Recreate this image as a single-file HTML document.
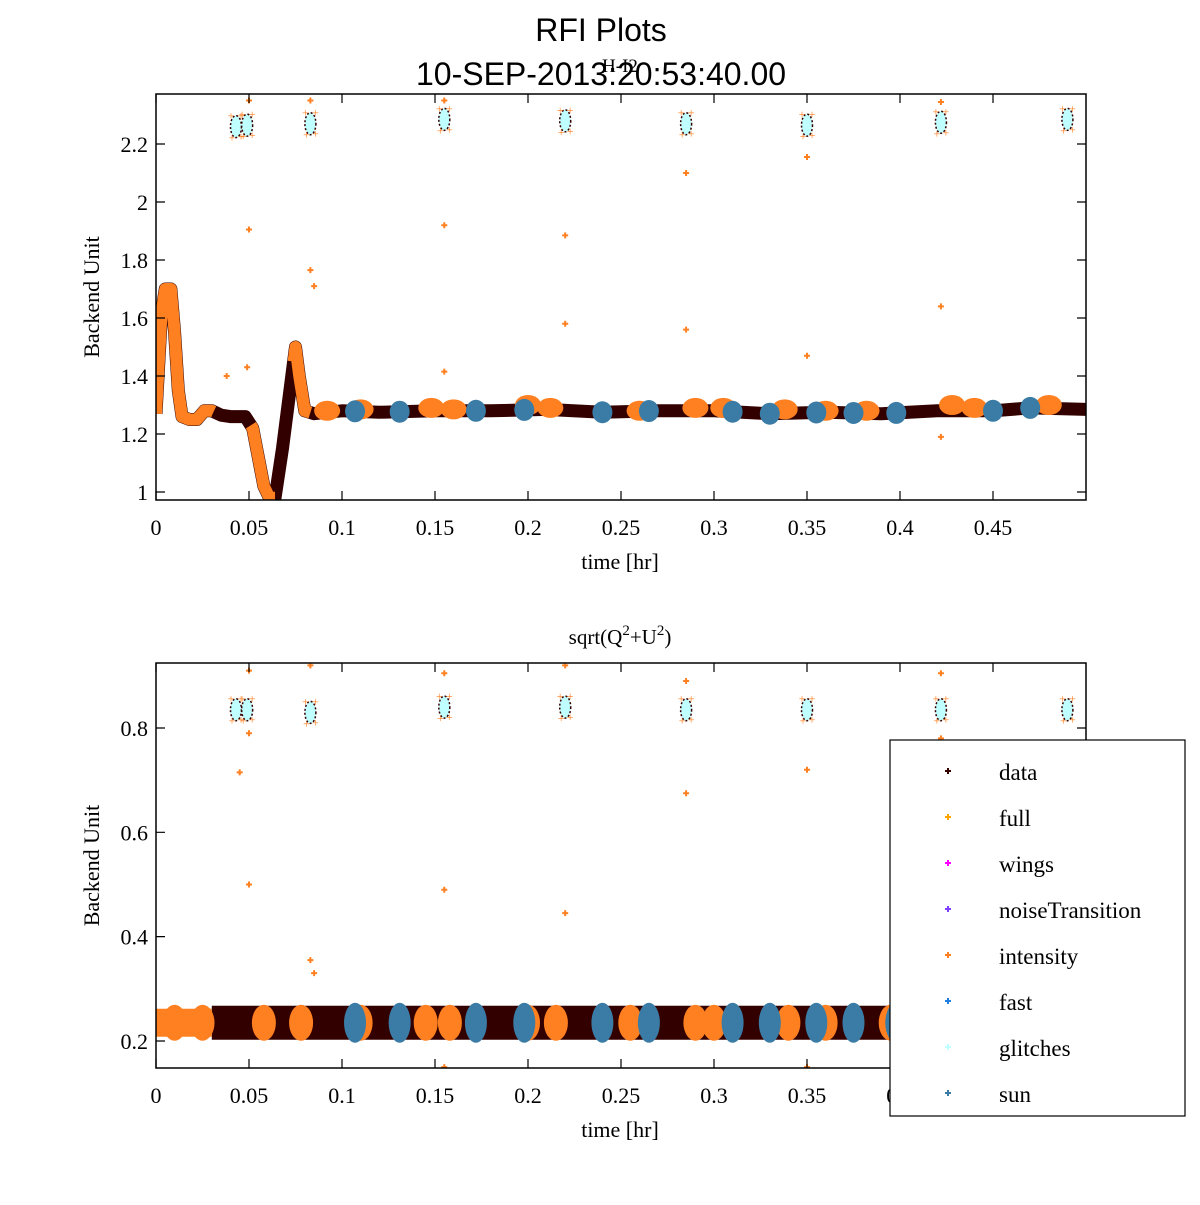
<!DOCTYPE html>
<html><head><meta charset="utf-8"><style>
body{margin:0;background:#fff}
svg text{font-family:"Liberation Serif",serif;fill:#000}
</style></head><body>
<svg id="s" width="1200" height="1200" viewBox="0 0 1200 1200" xmlns="http://www.w3.org/2000/svg">
<defs>
<clipPath id="c1"><rect x="156" y="94" width="930" height="406"/></clipPath>
<clipPath id="c2"><rect x="156" y="663" width="930" height="405"/></clipPath>
</defs>
<text x="601" y="41" font-size="32" text-anchor="middle" style="font-family:'Liberation Sans',sans-serif">RFI Plots</text>
<text x="601" y="85" font-size="32" text-anchor="middle" style="font-family:'Liberation Sans',sans-serif">10-SEP-2013:20:53:40.00</text>
<text x="620" y="72" font-size="19" text-anchor="middle">H-I2</text>
<text x="620" y="644" font-size="21" text-anchor="middle">sqrt(Q<tspan dy="-9" font-size="15">2</tspan><tspan dy="9">+U</tspan><tspan dy="-9" font-size="15">2</tspan><tspan dy="9">)</tspan></text>
<g id="p1" clip-path="url(#c1)"></g>
<g id="p2" clip-path="url(#c2)"></g>
<g id="ax"></g>
<g>
<rect x="890" y="740" width="295" height="376" fill="#fff" stroke="#000" stroke-width="1.2"/>
<g id="leg"></g>
</g>
</svg>
<script>
const NS="http://www.w3.org/2000/svg";
// ---- data ----
const curveT=[0,0.003,0.005,0.008,0.010,0.012,0.014,0.018,0.022,0.026,0.030,0.035,0.040,0.048,0.052,0.055,0.058,0.061,0.064,0.068,0.072,0.075,0.077,0.080,0.085,0.10,0.12,0.15,0.18,0.21,0.24,0.27,0.30,0.33,0.36,0.39,0.42,0.45,0.47,0.50];
const curveV=[1.27,1.62,1.70,1.70,1.55,1.35,1.26,1.25,1.25,1.28,1.28,1.265,1.26,1.26,1.22,1.12,1.02,0.98,0.98,1.15,1.35,1.50,1.40,1.28,1.27,1.28,1.275,1.28,1.28,1.285,1.275,1.28,1.28,1.27,1.275,1.27,1.28,1.28,1.29,1.285];
const orangeRanges=[[0,0.031],[0.051,0.064],[0.074,0.083]];
const topOrangeBlobT=[0.092,0.11,0.148,0.16,0.2,0.212,0.26,0.29,0.305,0.338,0.36,0.382,0.428,0.44,0.48];
const topOrangeBlobV=[1.28,1.285,1.29,1.285,1.3,1.29,1.28,1.29,1.29,1.285,1.28,1.28,1.3,1.29,1.3];
const sunT=[0.107,0.131,0.172,0.198,0.24,0.265,0.31,0.33,0.355,0.375,0.398,0.45,0.47];
const calT=[0.043,0.049,0.083,0.155,0.22,0.285,0.35,0.422,0.49];
const calTopV=[2.26,2.265,2.27,2.285,2.28,2.27,2.265,2.275,2.285];
const calBotV=[0.835,0.835,0.83,0.84,0.84,0.835,0.835,0.835,0.835];
const outTopT=[0.05,0.05,0.083,0.083,0.085,0.155,0.155,0.155,0.22,0.22,0.285,0.285,0.35,0.35,0.422,0.422,0.422,0.049,0.038];
const outTopV=[2.35,1.905,2.35,1.765,1.71,2.35,1.92,1.415,1.885,1.58,2.1,1.56,2.155,1.47,2.345,1.64,1.19,1.43,1.40];
const bandV=0.235;
const botOrangeBlobT=[0.01,0.025,0.058,0.078,0.11,0.145,0.158,0.2,0.215,0.255,0.29,0.3,0.34,0.36,0.395,0.43,0.455];
const outBotT=[0.05,0.05,0.045,0.05,0.083,0.083,0.085,0.155,0.155,0.22,0.22,0.285,0.285,0.35,0.422,0.422,0.155,0.35];
const outBotV=[0.91,0.79,0.715,0.5,0.92,0.355,0.33,0.905,0.49,0.92,0.445,0.89,0.675,0.72,0.905,0.78,0.15,0.15];
const xTicks=[0,0.05,0.1,0.15,0.2,0.25,0.3,0.35,0.4,0.45];
const topYTicks=[1,1.2,1.4,1.6,1.8,2,2.2];
const botYTicks=[0.2,0.4,0.6,0.8];
const legNames=["data","full","wings","noiseTransition","intensity","fast","glitches","sun"];
const legColors=["#330000","#ffa500","#ff00ff","#7f3fff","#ff8020","#1e7fe0","#c0ffff","#3a7ca5"];
// ---- scales ----
const X=t=>156+t*1860;
const Y1=v=>492-(v-1)*290;
const Y2=v=>1041-(v-0.2)*521.7;
function mk(tag,attrs,parent){const e=document.createElementNS(NS,tag);for(const k in attrs)e.setAttribute(k,attrs[k]);parent.appendChild(e);return e;}
const p1=document.getElementById('p1'),p2=document.getElementById('p2'),ax=document.getElementById('ax'),leg=document.getElementById('leg');
function interp(t){for(let i=1;i<curveT.length;i++){if(t<=curveT[i]){const f=(t-curveT[i-1])/(curveT[i]-curveT[i-1]);return curveV[i-1]+f*(curveV[i]-curveV[i-1]);}}return curveV[curveV.length-1];}
// top data curve
let d=curveT.map((t,i)=>(i?'L':'M')+X(t)+' '+Y1(curveV[i])).join(' ');
let e=mk('path',{d:d,fill:'none',stroke:'#330000','stroke-width':13,'stroke-linejoin':'round'},p1);

orangeRanges.forEach(r=>{let pts=[];for(let t=r[0];t<=r[1]+1e-9;t+=0.001)pts.push(X(t)+' '+Y1(interp(t)));
 const o=mk('path',{d:'M'+pts.join(' L'),fill:'none',stroke:'#ff8020','stroke-width':12,'stroke-linejoin':'round'},p1);
 });
topOrangeBlobT.forEach((t,i)=>{const o=mk('ellipse',{cx:X(t),cy:Y1(topOrangeBlobV[i]),rx:13,ry:10,fill:'#ff8020'},p1);
 });
// bottom band
let bd=mk('rect',{x:X(0.03),y:Y2(bandV)-17,width:X(0.5)-X(0.03),height:34,fill:'#330000'},p2);

let bo=mk('rect',{x:X(0),y:Y2(bandV)-14,width:X(0.03)-X(0),height:28,fill:'#ff8020'},p2);

botOrangeBlobT.forEach(t=>{const o=mk('ellipse',{cx:X(t),cy:Y2(bandV),rx:12,ry:18,fill:'#ff8020'},p2);
 });
sunT.forEach(t=>{const o=mk('ellipse',{cx:X(t),cy:Y1(interp(t)),rx:10,ry:11,fill:'#3a7ca5'},p1);
 
 const b=mk('ellipse',{cx:X(t),cy:Y2(bandV),rx:11,ry:20,fill:'#3a7ca5'},p2);
 });
// calibration clusters
calT.forEach((t,i)=>{[[p1,Y1(calTopV[i])],[p2,Y2(calBotV[i])]].forEach(([g,cy])=>{
 const o=mk('ellipse',{cx:X(t),cy:cy,rx:5.5,ry:11,fill:'#c0ffff',stroke:'#330000','stroke-width':1.5,'stroke-dasharray':'2 2'},g);
 
 [[-5,-11],[5,-11],[-4,11],[5,10]].forEach(([dx,dy])=>{const c=mk('text',{x:X(t)+dx,y:cy+dy+4,'font-size':12,'text-anchor':'middle',fill:'#ff8020'},g);c.textContent='+';c.style.fill='#ff8020';});});});
function plus(g,x,y,col){const o=mk('path',{d:`M${x-3} ${y}H${x+3}M${x} ${y-3}V${y+3}`,stroke:col,'stroke-width':2},g);
 }
outTopT.forEach((t,i)=>plus(p1,X(t),Y1(outTopV[i]),'#ff8020'));
outBotT.forEach((t,i)=>plus(p2,X(t),Y2(outBotV[i]),'#ff8020'));
// axes
function axes(top,bot,Yf,yt,name){
 const r=mk('rect',{x:156,y:top,width:930,height:bot-top,fill:'none',stroke:'#000','stroke-width':1.5},ax);
 
 xTicks.forEach(t=>{const x=X(t);mk('path',{d:`M${x} ${bot}v-9M${x} ${top}v9`,stroke:'#000','stroke-width':1.2},ax);
  const l=mk('text',{x:x,y:bot+35,'font-size':22,'text-anchor':'middle'},ax);l.textContent=String(t);
  });
 yt.forEach(v=>{const y=Yf(v);mk('path',{d:`M156 ${y}h9M1086 ${y}h-9`,stroke:'#000','stroke-width':1.2},ax);
  const l=mk('text',{x:148,y:y+8,'font-size':22,'text-anchor':'end'},ax);l.textContent=String(v);
  });
 const xl=mk('text',{x:620,y:bot+69,'font-size':22,'text-anchor':'middle'},ax);xl.textContent='time [hr]';
 
 const cy=(top+bot)/2;const yl=mk('text',{x:99,y:cy,'font-size':22,'text-anchor':'middle',transform:`rotate(-90 99 ${cy})`},ax);yl.textContent='Backend Unit';
 }
axes(94,500,Y1,topYTicks,'top');
axes(663,1068,Y2,botYTicks,'bottom');
// legend
legNames.forEach((n,i)=>{const y=772+i*46;
 const m=mk('path',{d:`M${948-3} ${y-1}h6M948 ${y-4}v6`,stroke:legColors[i],'stroke-width':2},leg);
 
 const t=mk('text',{x:999,y:y+8,'font-size':23},leg);t.textContent=n;
 });
</script>
</body></html>
